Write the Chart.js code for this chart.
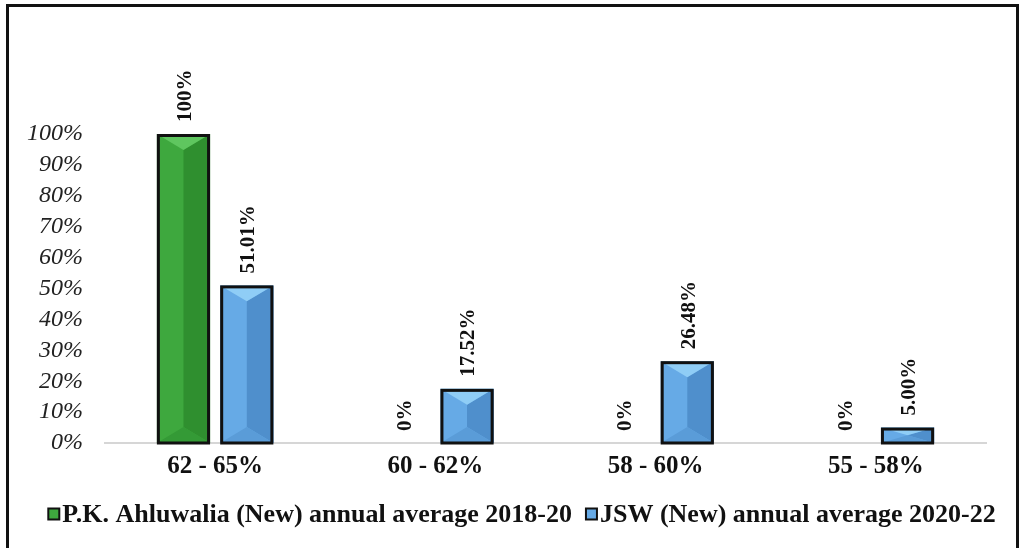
<!DOCTYPE html>
<html>
<head>
<meta charset="utf-8">
<script src="https://cdn.jsdelivr.net/npm/chart.js@4.4.1/dist/chart.umd.min.js"></script>
<style>
  html, body { margin:0; padding:0; background:#fff; overflow:hidden; }
  #wrap { position:relative; width:1022px; height:548px; }
  #frame { position:absolute; left:6px; top:4px; width:1007px; height:600px; border:3px solid #111; border-bottom:none; }
  canvas { position:absolute; left:0; top:0; }
</style>
</head>
<body>
<div id="wrap">
  <div id="frame"></div>
  <canvas id="chart" width="1022" height="548"></canvas>
</div>
<script>
// Nhóm hàm lượng sắt (Fe) và tỷ lệ mỗi nguồn
const categories = ['62 - 65%', '60 - 62%', '58 - 60%', '55 - 58%'];
const ahluwaliaVals = [100, 0, 0, 0];
const jswVals = [51.01, 17.52, 26.48, 5.00];
const seriesNames = ['P.K. Ahluwalia (New) annual average 2018-20', 'JSW (New) annual average 2020-22'];
const yTicks = [0, 10, 20, 30, 40, 50, 60, 70, 80, 90, 100];

const SERIF = '"Liberation Serif", "Times New Roman", serif';

// mau: [nen, phai toi, tam giac tren, tam giac duoi]
const SHADES = [
    ['#3ea83e', '#2f8f2f', '#5fc65f', '#349a36'],
    ['#66aae6', '#4f8fcc', '#8fcdf6', '#5a9cd8']
];

// ve hieu ung vat canh (bevel) + vien den cho tung cot
const bevelPlugin = {
    id: 'bevel',
    afterDatasetsDraw(chart) {
        const ctx = chart.ctx;
        chart.data.datasets.forEach((ds, di) => {
            const meta = chart.getDatasetMeta(di);
            const c = SHADES[di];
            meta.data.forEach(bar => {
                const p = bar.getProps(['x', 'y', 'base', 'width'], true);
                const l = p.x - p.width / 2, r = p.x + p.width / 2;
                const t = Math.min(p.y, p.base), b = Math.max(p.y, p.base);
                const h = b - t;
                if (h < 1) return;
                const d = Math.min(p.width * 0.3, h / 2);
                ctx.save();
                // nua phai toi hon
                ctx.fillStyle = c[1];
                ctx.beginPath();
                ctx.moveTo(p.x, t + d); ctx.lineTo(r, t); ctx.lineTo(r, b); ctx.lineTo(p.x, b - d);
                ctx.closePath(); ctx.fill();
                // tam giac tren sang
                ctx.fillStyle = c[2];
                ctx.beginPath();
                ctx.moveTo(l, t); ctx.lineTo(r, t); ctx.lineTo(p.x, t + d);
                ctx.closePath(); ctx.fill();
                // tam giac duoi
                ctx.fillStyle = c[3];
                ctx.beginPath();
                ctx.moveTo(l, b); ctx.lineTo(r, b); ctx.lineTo(p.x, b - d);
                ctx.closePath(); ctx.fill();
                // vien
                ctx.strokeStyle = '#111';
                ctx.lineWidth = 3;
                ctx.strokeRect(l + 1.5, t + 1.5, p.width - 3, h - 1.5);
                ctx.restore();
            });
        });
    }
};

// nhan gia tri xoay doc phia tren cot
const valueLabelPlugin = {
    id: 'valueLabels',
    afterDatasetsDraw(chart) {
        const ctx = chart.ctx;
        chart.data.datasets.forEach((ds, di) => {
            const meta = chart.getDatasetMeta(di);
            meta.data.forEach((bar, i) => {
                const v = ds.data[i];
                const txt = di === 0 ? v + '%' : v.toFixed(2) + '%';
                const top = Math.min(bar.y, bar.base);
                ctx.save();
                ctx.translate(bar.x + 2, top - 12);
                ctx.rotate(-Math.PI / 2);
                ctx.font = 'bold 21px ' + SERIF;
                ctx.fillStyle = '#111';
                ctx.textAlign = 'left';
                ctx.textBaseline = 'middle';
                ctx.fillText(txt, 0, 0);
                ctx.restore();
            });
        });
    }
};

// chu giai ve tay o day hinh (can giua quanh x=522)
const legendPlugin = {
    id: 'bottomLegend',
    afterDraw(chart) {
        const ctx = chart.ctx;
        ctx.save();
        ctx.font = 'bold 26px ' + SERIF;
        ctx.textBaseline = 'middle';
        ctx.textAlign = 'left';
        const box = 11, gapText = 3, gapItem = 14;
        const widths = seriesNames.map(s => ctx.measureText(s).width);
        const total = widths.reduce((a, w) => a + box + gapText + w, 0) + gapItem * (seriesNames.length - 1);
        let x = 522 - total / 2;
        const y = 514;
        seriesNames.forEach((s, i) => {
            ctx.fillStyle = SHADES[i][0];
            ctx.fillRect(x, y - box / 2, box, box);
            ctx.strokeStyle = '#111';
            ctx.lineWidth = 2;
            ctx.strokeRect(x, y - box / 2, box, box);
            ctx.fillStyle = '#111';
            ctx.fillText(s, x + box + gapText, y + 1);
            x += box + gapText + widths[i] + gapItem;
        });
        ctx.restore();
    }
};

new Chart(document.getElementById('chart'), {
    type: 'bar',
    data: {
        labels: categories,
        datasets: [
            { label: seriesNames[0], data: ahluwaliaVals, backgroundColor: SHADES[0][0], borderWidth: 0,
              categoryPercentage: 0.575, barPercentage: 0.84 },
            { label: seriesNames[1], data: jswVals, backgroundColor: SHADES[1][0], borderWidth: 0,
              categoryPercentage: 0.575, barPercentage: 0.84 }
        ]
    },
    options: {
        responsive: false,
        animation: false,
        devicePixelRatio: 1,
        layout: { padding: { top: 134, right: 36, left: 0, bottom: 65 } },
        scales: {
            y: {
                min: 0, max: 100,
                afterFit: s => { s.width = 105; },
                afterBuildTicks: s => { s.ticks = yTicks.map(v => ({ value: v })); },
                grid: { display: false, drawTicks: false },
                border: { display: false },
                ticks: {
                    autoSkip: false,
                    padding: 22,
                    color: '#222',
                    font: { family: SERIF, size: 24, style: 'italic' },
                    callback: v => v + '%'
                }
            },
            x: {
                afterFit: s => { s.height = 40; },
                grid: { display: false, drawTicks: false },
                border: { display: true, color: '#d6d6d6', width: 2 },
                ticks: {
                    padding: 9,
                    color: '#111',
                    font: { family: SERIF, size: 25, weight: 'bold' }
                }
            }
        },
        plugins: {
            tooltip: { enabled: false },
            legend: { display: false }
        }
    },
    plugins: [bevelPlugin, valueLabelPlugin, legendPlugin]
});
</script>
</body>
</html>
